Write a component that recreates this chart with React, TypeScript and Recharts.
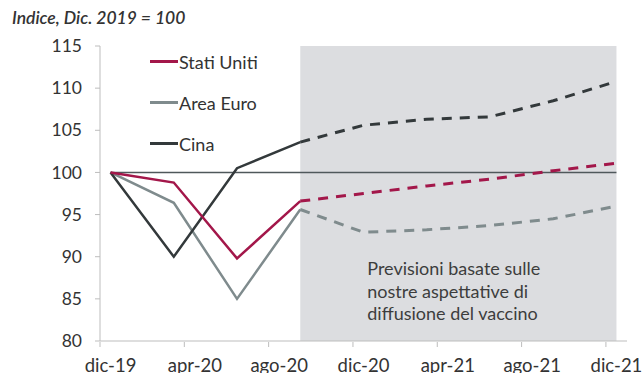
import { LineChart, Line, XAxis, YAxis, ReferenceArea } from 'recharts'

// months since dic-19, quarterly observations
const months = [0, 3, 6, 9, 12, 15, 18, 21, 24]
const usValues = [100, 98.8, 89.8, 96.6, 97.5, 98.4, 99.2, 100.2, 101.1]
const euroValues = [100, 96.4, 85, 95.6, 92.9, 93.2, 93.7, 94.5, 96.0]
const chinaValues = [100, 90, 100.5, 103.6, 105.6, 106.3, 106.6, 108.5, 110.8]
const baseValues = [100, 100, 100, 100, 100, 100, 100, 100, 100]
const lastActual = 3 // index of set-20, where forecasts start

const xTickMonths = [0, 4, 8, 12, 16, 20, 24]
const xTickLabels = ['dic-19', 'apr-20', 'ago-20', 'dic-20', 'apr-21', 'ago-21', 'dic-21']
const yTicks = [80, 85, 90, 95, 100, 105, 110, 115]

const legendItems = [
  { name: 'Stati Uniti', color: '#a3174a' },
  { name: 'Area Euro', color: '#7f8b8d' },
  { name: 'Cina', color: '#33393b' },
]

const note = ['Previsioni basate sulle', 'nostre aspettative di', 'diffusione del vaccino']

const W = 642
const H = 373
const LEFT = 100
const RIGHT = 15
const halfMonth = (W - LEFT - RIGHT) / 25 / 2
const FONT = 'Lato, "Open Sans", sans-serif'

const split = (vals: number[], actual: boolean) =>
  vals.map((v, i) => (actual ? (i <= lastActual ? v : null) : i >= lastActual ? v : null))

const data = months.map((m, i) => ({
  m,
  base: baseValues[i],
  usA: split(usValues, true)[i],
  usF: split(usValues, false)[i],
  euA: split(euroValues, true)[i],
  euF: split(euroValues, false)[i],
  cnA: split(chinaValues, true)[i],
  cnF: split(chinaValues, false)[i],
}))

const XTick = ({ x, y, payload }: any) => {
  const idx = xTickMonths.indexOf(payload.value)
  return (
    <g>
      <line x1={x - halfMonth} x2={x - halfMonth} y1={y - 7} y2={y - 2} stroke="#bdbdbd" />
      <text x={x} y={y} dy={23} textAnchor="middle" fill="#333" fontSize={18.5} fontFamily={FONT}>
        {xTickLabels[idx]}
      </text>
    </g>
  )
}

const NoteLabel = ({ viewBox }: any) => (
  <text fill="#3d3d3d" fontSize={18} fontFamily={FONT}>
    {note.map((line, i) => (
      <tspan key={line} x={viewBox.x + 67} y={viewBox.y + 229 + i * 22.5}>
        {line}
      </tspan>
    ))}
  </text>
)

export default function App() {
  return (
    <div style={{ position: 'absolute', left: 0, top: 0, width: W, height: H, background: '#fff' }}>
      <div
        style={{
          position: 'absolute',
          left: 12,
          top: 7,
          fontFamily: FONT,
          fontStyle: 'italic',
          fontWeight: 600,
          fontSize: 17.5,
          color: '#333',
        }}
      >
        Indice, Dic. 2019 = 100
      </div>
      <LineChart width={W} height={H} data={data} margin={{ top: 46, right: RIGHT, bottom: 0, left: 0 }}>
        <ReferenceArea x1={9} x2={24} y1={80} y2={115} fill="#dcdde0" fillOpacity={1} stroke="none" label={<NoteLabel />} />
        <XAxis
          dataKey="m"
          type="number"
          domain={[-0.5, 24.5]}
          ticks={xTickMonths}
          tick={<XTick />}
          tickLine={false}
          height={32}
          stroke="#bdbdbd"
          interval={0}
        />
        <YAxis
          domain={[80, 115]}
          ticks={yTicks}
          width={LEFT}
          tickSize={5}
          tickMargin={13}
          stroke="#bdbdbd"
          tick={{ fill: '#333', fontSize: 17.5, fontFamily: FONT }}
          allowDataOverflow
        />
        <Line dataKey="base" stroke="#4f585b" strokeWidth={1.6} dot={false} isAnimationActive={false} />
        <Line dataKey="euA" stroke="#7f8b8d" strokeWidth={2.5} dot={false} isAnimationActive={false} />
        <Line dataKey="euF" stroke="#7f8b8d" strokeWidth={3} strokeDasharray="10 8" dot={false} isAnimationActive={false} />
        <Line dataKey="cnA" stroke="#33393b" strokeWidth={2.5} dot={false} isAnimationActive={false} />
        <Line dataKey="cnF" stroke="#33393b" strokeWidth={3} strokeDasharray="10 8" dot={false} isAnimationActive={false} />
        <Line dataKey="usA" stroke="#a3174a" strokeWidth={2.5} dot={false} isAnimationActive={false} />
        <Line dataKey="usF" stroke="#a3174a" strokeWidth={3} strokeDasharray="10 8" dot={false} isAnimationActive={false} />
      </LineChart>
      <div style={{ position: 'absolute', left: 150, top: 41, fontFamily: FONT, fontSize: 18, color: '#333' }}>
        {legendItems.map((it) => (
          <div key={it.name} style={{ display: 'flex', alignItems: 'center', height: 41 }}>
            <span style={{ width: 28, height: 2.5, background: it.color, marginRight: 1 }} />
            <span>{it.name}</span>
          </div>
        ))}
      </div>
    </div>
  )
}
